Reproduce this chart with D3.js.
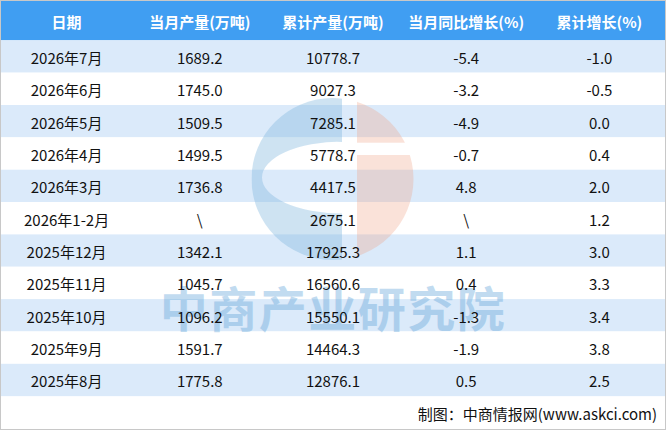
<!DOCTYPE html>
<html>
<head>
<meta charset="utf-8">
<script src="https://cdn.jsdelivr.net/npm/d3@7"></script>
<style>
  html, body { margin: 0; padding: 0; background: #fff; }
  svg { display: block; font-family: "Noto Sans CJK SC", "Noto Sans", sans-serif; }
</style>
</head>
<body>
<div id="table-chart"></div>
<script>
const headers = ['日期', '当月产量(万吨)', '累计产量(万吨)', '当月同比增长(%)', '累计增长(%)'];
const dates = ['2026年7月', '2026年6月', '2026年5月', '2026年4月', '2026年3月', '2026年1-2月',
               '2025年12月', '2025年11月', '2025年10月', '2025年9月', '2025年8月'];
const monthly = [1689.2, 1745.0, 1509.5, 1499.5, 1736.8, null, 1342.1, 1045.7, 1096.2, 1591.7, 1775.8];
const cumulative = [10778.7, 9027.3, 7285.1, 5778.7, 4417.5, 2675.1, 17925.3, 16560.6, 15550.1, 14464.3, 12876.1];
const monthlyYoY = [-5.4, -3.2, -4.9, -0.7, 4.8, null, 1.1, 0.4, -1.3, -1.9, 0.5];
const cumulativeYoY = [-1.0, -0.5, 0.0, 0.4, 2.0, 1.2, 3.0, 3.3, 3.4, 3.8, 2.5];
const source = '制图：中商情报网(www.askci.com)';

(function(){
    const W = 666, H = 431;
    const headH = 40.3, rowH = 32.35;

    const fmt = v => v === null ? '\\' : (v < 0 ? '-' + d3.format('.1f')(-v) : d3.format('.1f')(v));
    const rows = dates.map((d, i) => [d, fmt(monthly[i]), fmt(cumulative[i]), fmt(monthlyYoY[i]), fmt(cumulativeYoY[i])]);

    const svg = d3.select('#table-chart').append('svg')
        .attr('width', W).attr('height', H)
        .attr('viewBox', `0 0 ${W} ${H}`);

    const x = d3.scaleBand().domain(d3.range(headers.length)).range([0, W]);
    const y = d3.scaleBand().domain(d3.range(rows.length)).range([headH, headH + rowH * rows.length]);

    svg.append('rect').attr('width', W).attr('height', H).attr('fill', '#fff');

    // header
    svg.append('rect').attr('x', 0).attr('y', 0).attr('width', W).attr('height', headH).attr('fill', '#409ef2');

    // striped rows
    svg.append('g').selectAll('rect')
        .data(rows)
        .enter().append('rect')
        .attr('x', 0)
        .attr('y', (d, i) => y(i))
        .attr('width', W)
        .attr('height', y.bandwidth())
        .attr('fill', (d, i) => i % 2 === 0 ? '#dbeafa' : '#ffffff');

    // watermark logo
    const wm = svg.append('g').attr('class', 'watermark');
    const cx = 332.5, cy = 179, r = 81;
    const clip = svg.append('defs').append('clipPath').attr('id', 'logoClip');
    clip.append('circle').attr('cx', cx).attr('cy', cy).attr('r', r);
    const logo = wm.append('g').attr('clip-path', 'url(#logoClip)');
    const ex = 342, ey = 177.5, erx = 80, ery = 36;
    logo.append('path')
        .attr('fill-rule', 'evenodd')
        .attr('fill', '#7fb6dc')
        .attr('opacity', 0.38)
        .attr('d', `M${cx - r},${cy - r}H${ex}V${cy + r}H${cx - r}Z ` +
                   `M${ex},${ey - ery}A${erx},${ery} 0 0 0 ${ex},${ey + ery}Z`);
    logo.append('rect').attr('x', 357).attr('y', cy - r).attr('width', 60).attr('height', 142.7 - (cy - r))
        .attr('fill', '#f0a080').attr('opacity', 0.3);
    logo.append('rect').attr('x', 357).attr('y', 155).attr('width', 60).attr('height', cy + r - 155)
        .attr('fill', '#f0a080').attr('opacity', 0.3);
    wm.append('text')
        .attr('x', 333).attr('y', 327)
        .attr('text-anchor', 'middle')
        .attr('font-size', 48).attr('font-weight', 700)
        .attr('letter-spacing', 1.5)
        .attr('fill', '#5fa3d8').attr('opacity', 0.38)
        .text('中商产业研究院');

    // header text
    svg.append('g').selectAll('text')
        .data(headers)
        .enter().append('text')
        .attr('x', (d, i) => x(i) + x.bandwidth() / 2)
        .attr('y', headH / 2 + 1)
        .attr('text-anchor', 'middle')
        .attr('dominant-baseline', 'central')
        .attr('font-size', 15).attr('font-weight', 700)
        .attr('fill', '#fff')
        .text(d => d);

    // cells
    const rowG = svg.append('g').selectAll('g')
        .data(rows)
        .enter().append('g')
        .attr('transform', (d, i) => `translate(0,${y(i) + y.bandwidth() / 2 + 1})`);
    rowG.selectAll('text')
        .data(d => d)
        .enter().append('text')
        .attr('x', (d, i) => x(i) + x.bandwidth() / 2)
        .attr('text-anchor', 'middle')
        .attr('dominant-baseline', 'central')
        .attr('font-size', 15)
        .attr('fill', '#111')
        .text(d => d);

    // footer
    svg.append('text')
        .attr('x', 657).attr('y', 413)
        .attr('text-anchor', 'end')
        .attr('dominant-baseline', 'central')
        .attr('font-size', 15)
        .attr('fill', '#111')
        .text(source);

    // outer border
    svg.append('rect')
        .attr('x', 0.5).attr('y', 0.5).attr('width', W - 1).attr('height', H - 2)
        .attr('fill', 'none').attr('stroke', '#c8c8c8');
})();
</script>
</body>
</html>
